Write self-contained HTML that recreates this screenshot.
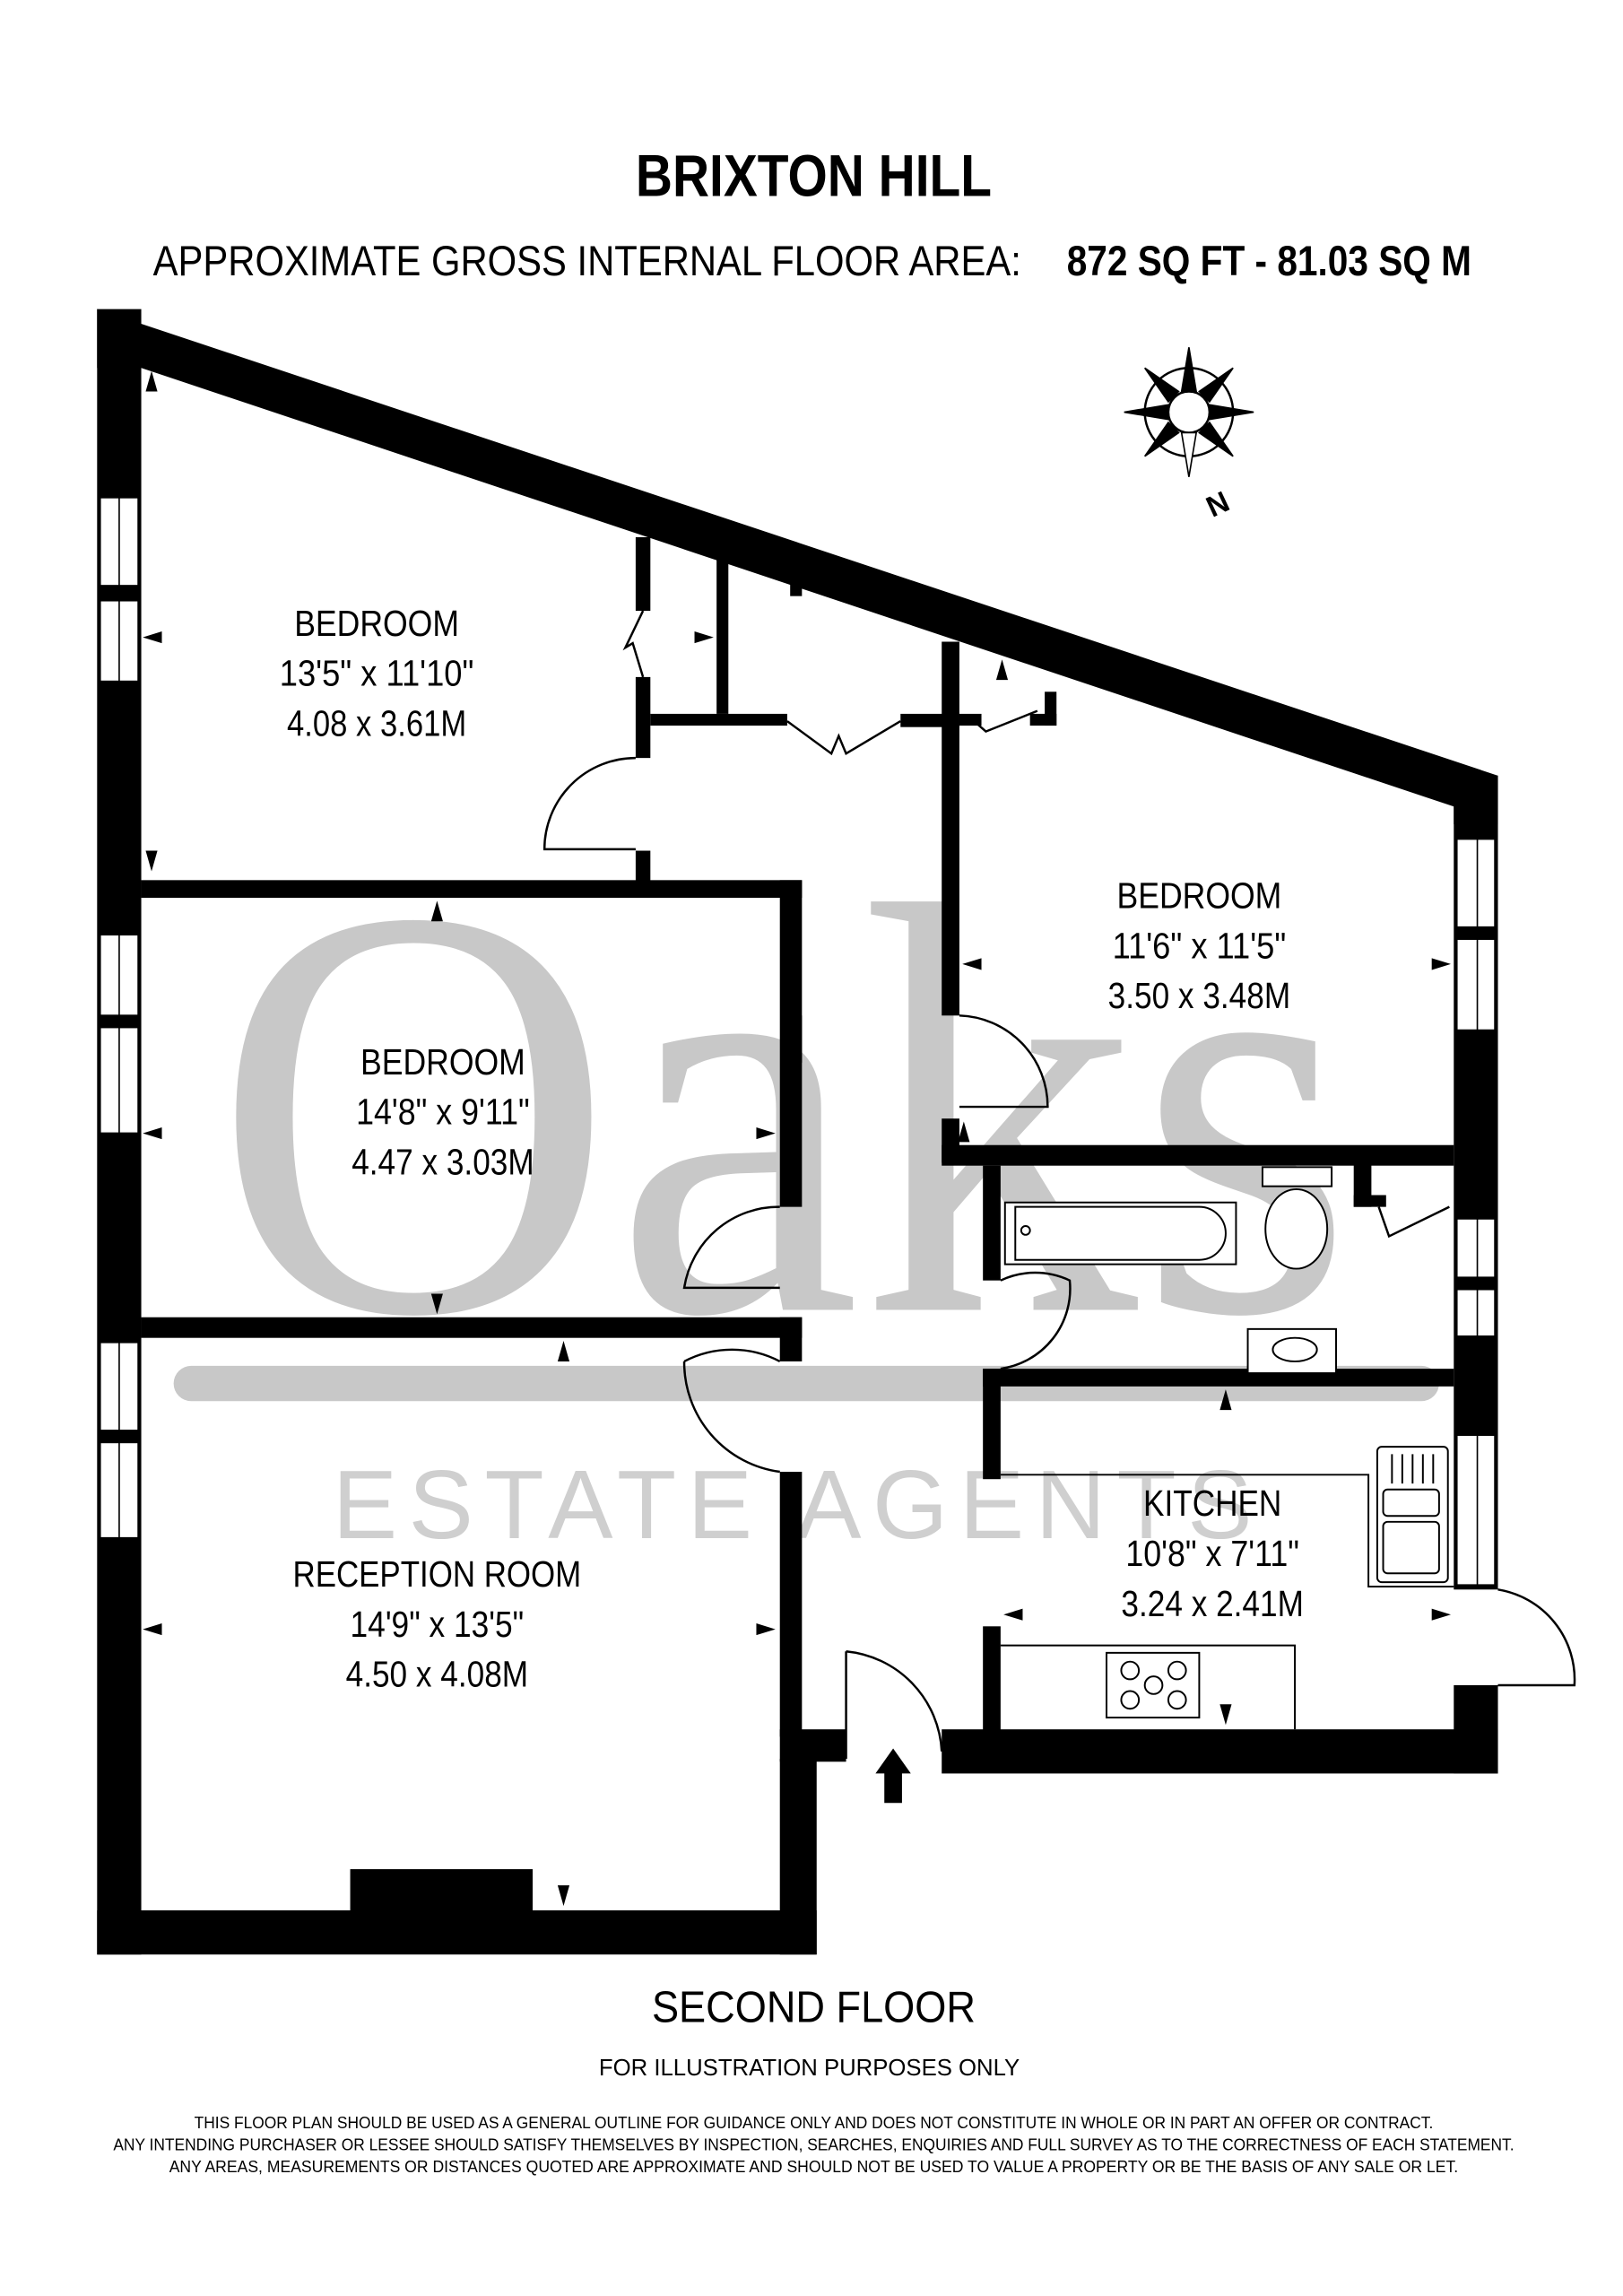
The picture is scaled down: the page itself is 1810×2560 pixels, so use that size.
<!DOCTYPE html>
<html><head><meta charset="utf-8"><style>
html,body{margin:0;padding:0;background:#fff;width:1810px;height:2560px;overflow:hidden}
svg{display:block}
.s{font-family:"Liberation Sans",sans-serif}
.w{font-family:"Liberation Serif",serif}
</style></head><body>
<svg width="1810" height="2560" viewBox="0 0 1103 1560" xmlns="http://www.w3.org/2000/svg">
<rect width="1103" height="1560" fill="#fff"/>
<g class="s">
<text x="553" y="133" font-size="40" font-weight="bold" text-anchor="middle" textLength="242" lengthAdjust="spacingAndGlyphs">BRIXTON HILL</text>
<text x="104" y="187" font-size="29" textLength="590" lengthAdjust="spacingAndGlyphs">APPROXIMATE GROSS INTERNAL FLOOR AREA:</text>
<text x="725" y="187" font-size="29" font-weight="bold" textLength="275" lengthAdjust="spacingAndGlyphs">872 SQ FT  -  81.03 SQ M</text>
</g>

<!-- watermark -->
<g fill="#c8c8c8">
<text class="w" x="145" y="890" font-size="400" textLength="775" lengthAdjust="spacingAndGlyphs">Oaks</text>
<rect x="118" y="928" width="860" height="24" rx="12"/>
<text class="s" x="226" y="1045" font-size="66" fill="#cfcfcf" textLength="625" lengthAdjust="spacing">ESTATE AGENTS</text>
</g>

<!-- compass -->
<g transform="translate(808,280)" stroke="#000" fill="none">
<circle r="30" stroke-width="1.5"/>
<circle r="14" fill="#fff" stroke-width="1.5"/>
<g fill="#000">
<polygon points="0,-44 5,-14 -5,-14"/><polygon points="0,44 5,14 -5,14" fill="#fff"/>
<polygon points="-44,0 -14,5 -14,-5"/><polygon points="44,0 14,5 14,-5"/>
<polygon points="-30,-30 -7,-14 -14,-7"/><polygon points="30,30 7,14 14,7"/>
<polygon points="30,-30 7,-14 14,-7"/><polygon points="-30,30 -7,14 -14,7"/>
</g>
</g>
<text class="s" x="820" y="350" font-size="20" font-weight="bold" transform="rotate(-25 826 342)">N</text>

<!-- walls -->
<g fill="#000">
<rect x="66" y="210" width="30" height="1118"/>
<polygon points="66,210 1018,527 1018,560 988,560 988,548 96,250 66,250"/>
<rect x="988" y="527" width="30" height="553"/>
<rect x="988" y="1145" width="30" height="60"/>
<rect x="640" y="1175" width="378" height="30"/>
<rect x="66" y="1298" width="489" height="30"/>
<rect x="530" y="1195" width="25" height="133"/>
<rect x="530" y="1175" width="45" height="22"/>
<rect x="530" y="1000" width="15" height="180"/>
<rect x="530" y="895" width="15" height="30"/>
<rect x="96" y="895" width="449" height="14"/>
<rect x="96" y="598" width="449" height="12"/>
<rect x="530" y="598" width="15" height="222"/>
<rect x="533" y="690" width="12" height="32"/>
<rect x="432" y="365" width="10" height="50"/>
<rect x="432" y="460" width="10" height="55"/>
<rect x="432" y="578" width="10" height="22"/>
<rect x="442" y="485" width="93" height="8"/>
<rect x="487" y="380" width="8" height="105"/>
<rect x="537" y="390" width="8" height="15"/>
<rect x="612" y="485" width="40" height="9"/>
<rect x="640" y="436" width="12" height="254"/>
<rect x="640" y="760" width="12" height="30"/>
<rect x="652" y="485" width="15" height="8"/>
<rect x="710" y="470" width="8" height="23"/>
<rect x="700" y="485" width="18" height="8"/>
<rect x="640" y="778" width="348" height="14"/>
<rect x="668" y="792" width="12" height="78"/>
<rect x="668" y="930" width="12" height="75"/>
<rect x="668" y="930" width="320" height="12"/>
<rect x="668" y="1105" width="12" height="72"/>
<rect x="920" y="790" width="12" height="30"/>
<rect x="920" y="812" width="22" height="8"/>
<rect x="238" y="1270" width="124" height="30"/>
</g>

<!-- windows -->
<g fill="#fff" stroke="#000" stroke-width="1.2">
<rect x="68" y="338" width="26" height="60"/><rect x="68" y="408" width="26" height="55"/>
<rect x="68" y="635" width="26" height="55"/><rect x="68" y="698" width="26" height="72"/>
<rect x="68" y="912" width="26" height="60"/><rect x="68" y="980" width="26" height="65"/>
<rect x="990" y="570" width="26" height="60"/><rect x="990" y="638" width="26" height="62"/>
<rect x="990" y="828" width="26" height="40"/><rect x="990" y="876" width="26" height="32"/>
<rect x="990" y="975" width="26" height="102"/>
</g>
<g stroke="#000" stroke-width="1" fill="none">
<line x1="81" y1="338" x2="81" y2="463"/><line x1="81" y1="635" x2="81" y2="770"/><line x1="81" y1="912" x2="81" y2="1045"/>
<line x1="1004" y1="570" x2="1004" y2="700"/><line x1="1004" y1="828" x2="1004" y2="908"/><line x1="1004" y1="975" x2="1004" y2="1077"/>
</g>

<!-- doors -->
<g stroke="#000" stroke-width="1.5" fill="none">
<path d="M432,515 A62,62 0 0 0 370,577 L432,577"/>
<path d="M652,690 A62,62 0 0 1 712,752 L652,752"/>
<path d="M530,820 A65,65 0 0 0 465,875 L530,875"/>
<path d="M530,925 A70,70 0 0 0 465,925 M465,925 A75,75 0 0 0 530,1000"/>
<path d="M680,870 A55,55 0 0 1 727,870 A55,55 0 0 1 680,930"/>
<path d="M575,1122 L575,1195 M575,1122 A72,72 0 0 1 640,1190"/>
<path d="M1018,1080 A62,62 0 0 1 1070,1145 L1018,1145"/>
<path d="M437,415 L425,440 L430,437 L437,460"/>
<path d="M535,490 L565,512 L570,500 L575,512 L612,490"/>
<path d="M662,490 L670,497 L705,483"/>
<path d="M937,820 L944,840 L985,820"/>
</g>

<!-- fixtures -->
<g stroke="#000" stroke-width="1.2" fill="#fff">
<rect x="683" y="817" width="157" height="42"/>
<path d="M690,820 H815 A18,18 0 0 1 815,856 H690 Z"/>
<circle cx="697" cy="836" r="3"/>
<rect x="858" y="793" width="47" height="13"/>
<ellipse cx="881" cy="835" rx="21" ry="27"/>
<rect x="848" y="903" width="60" height="30"/>
<ellipse cx="880" cy="917" rx="15" ry="8"/>
<path d="M680,1002 H930 V1078 H988" fill="none"/>
<rect x="936" y="983" width="48" height="92" rx="3"/>
<rect x="940" y="1012" width="38" height="18" rx="3"/>
<rect x="940" y="1034" width="38" height="35" rx="3"/>
<path d="M946,988V1008 M953,988V1008 M960,988V1008 M967,988V1008 M974,988V1008" fill="none"/>
<path d="M680,1118 H880 V1175" fill="none"/>
<rect x="752" y="1123" width="63" height="44"/>
<circle cx="768" cy="1135" r="6"/><circle cx="800" cy="1135" r="6"/><circle cx="784" cy="1145" r="6"/><circle cx="768" cy="1155" r="6"/><circle cx="800" cy="1155" r="6"/>
</g>
<polygon points="607,1188 595,1205 601,1205 601,1225 613,1225 613,1205 619,1205" fill="#000"/>

<!-- dimension arrows -->
<g fill="#000">
<polygon points="103,252 99,266 107,266"/><polygon points="103,592 99,578 107,578"/>
<polygon points="97,433 110,429 110,437"/><polygon points="485,433 472,429 472,437"/>
<polygon points="297,612 293,626 301,626"/><polygon points="297,893 293,879 301,879"/>
<polygon points="97,770 110,766 110,774"/><polygon points="527,770 514,766 514,774"/>
<polygon points="383,911 379,925 387,925"/><polygon points="383,1295 379,1281 387,1281"/>
<polygon points="97,1107 110,1103 110,1111"/><polygon points="527,1107 514,1103 514,1111"/>
<polygon points="654,655 667,651 667,659"/><polygon points="986,655 973,651 973,659"/>
<polygon points="681,448 677,462 685,462"/><polygon points="655,762 651,776 659,776"/>
<polygon points="833,944 829,958 837,958"/><polygon points="833,1172 829,1158 837,1158"/>
<polygon points="682,1097 695,1093 695,1101"/><polygon points="986,1097 973,1093 973,1101"/>
</g>

<!-- labels -->
<g class="s" font-size="25" text-anchor="middle">
<text x="256" y="432" textLength="112" lengthAdjust="spacingAndGlyphs">BEDROOM</text>
<text x="256" y="466" textLength="132" lengthAdjust="spacingAndGlyphs">13'5" x 11'10"</text>
<text x="256" y="500" textLength="122" lengthAdjust="spacingAndGlyphs">4.08 x 3.61M</text>
<text x="301" y="730" textLength="112" lengthAdjust="spacingAndGlyphs">BEDROOM</text>
<text x="301" y="764" textLength="118" lengthAdjust="spacingAndGlyphs">14'8" x 9'11"</text>
<text x="301" y="798" textLength="124" lengthAdjust="spacingAndGlyphs">4.47 x 3.03M</text>
<text x="815" y="617" textLength="112" lengthAdjust="spacingAndGlyphs">BEDROOM</text>
<text x="815" y="651" textLength="118" lengthAdjust="spacingAndGlyphs">11'6" x 11'5"</text>
<text x="815" y="685" textLength="124" lengthAdjust="spacingAndGlyphs">3.50 x 3.48M</text>
<text x="824" y="1030" textLength="94" lengthAdjust="spacingAndGlyphs">KITCHEN</text>
<text x="824" y="1064" textLength="118" lengthAdjust="spacingAndGlyphs">10'8" x 7'11"</text>
<text x="824" y="1098" textLength="124" lengthAdjust="spacingAndGlyphs">3.24 x 2.41M</text>
<text x="297" y="1078" textLength="196" lengthAdjust="spacingAndGlyphs">RECEPTION ROOM</text>
<text x="297" y="1112" textLength="118" lengthAdjust="spacingAndGlyphs">14'9" x 13'5"</text>
<text x="297" y="1146" textLength="124" lengthAdjust="spacingAndGlyphs">4.50 x 4.08M</text>
</g>

<!-- footer -->
<g class="s">
<text x="553" y="1374" font-size="30" text-anchor="middle" textLength="220" lengthAdjust="spacingAndGlyphs">SECOND FLOOR</text>
<text x="550" y="1410" font-size="16" text-anchor="middle" textLength="286" lengthAdjust="spacingAndGlyphs">FOR ILLUSTRATION PURPOSES ONLY</text>
<g font-size="11" text-anchor="middle">
<text x="553" y="1446" textLength="842" lengthAdjust="spacingAndGlyphs">THIS FLOOR PLAN SHOULD BE USED AS A GENERAL OUTLINE FOR GUIDANCE ONLY AND DOES NOT CONSTITUTE IN WHOLE OR IN PART AN OFFER OR CONTRACT.</text>
<text x="553" y="1461" textLength="952" lengthAdjust="spacingAndGlyphs">ANY INTENDING PURCHASER OR LESSEE SHOULD SATISFY THEMSELVES BY INSPECTION, SEARCHES, ENQUIRIES AND FULL SURVEY AS TO THE CORRECTNESS OF EACH STATEMENT.</text>
<text x="553" y="1476" textLength="876" lengthAdjust="spacingAndGlyphs">ANY AREAS, MEASUREMENTS OR DISTANCES QUOTED ARE APPROXIMATE AND SHOULD NOT BE USED TO VALUE A PROPERTY OR BE THE BASIS OF ANY SALE OR LET.</text>
</g>
</g>
</svg>
</body></html>
